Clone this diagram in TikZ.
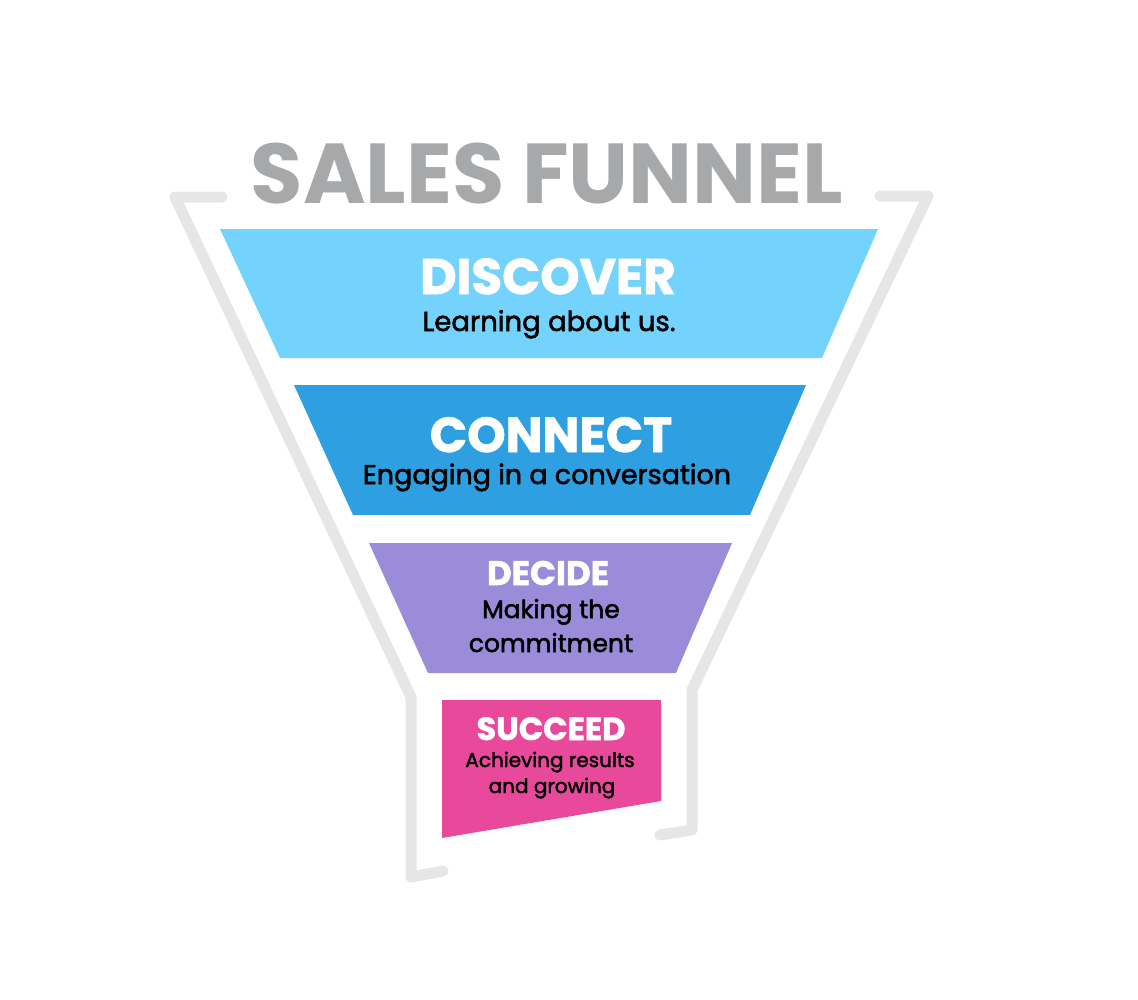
\documentclass[tikz,border=0pt]{standalone}
\usepackage{fontspec}
\setmainfont{Poppins}
\newfontfamily\headfont{Poppins}[FakeBold=1.6]
\newfontfamily\subfont{Poppins}[FakeBold=2]
\definecolor{funnelgray}{HTML}{E6E6E7}
\definecolor{titlegray}{HTML}{A7A8AA}
\definecolor{discoverblue}{HTML}{73D3FD}
\definecolor{connectblue}{HTML}{2E9FE1}
\definecolor{decidepurple}{HTML}{9A8CD9}
\definecolor{succeedpink}{HTML}{E9499B}
\begin{document}
\begin{tikzpicture}[x=1pt,y=-1pt,
    funnel/.style={draw=funnelgray,line width=11pt,line cap=round,line join=round},
    head/.style={anchor=base,inner sep=0pt,text=white,font=\headfont\bfseries\fontsize{#1}{#1}\selectfont},
    sub/.style={anchor=base,inner sep=0pt,text=black,font=\subfont\fontsize{#1}{#1}\selectfont}]
  \useasboundingbox (0,0) rectangle (1138,999);
  % funnel outline
  \draw[funnel] (222,197) -- (175,197) -- (411,697) -- (411,877) -- (443,871);
  \draw[funnel] (880,196) -- (928,196) -- (692,690) -- (692,830) -- (660,835);
  % stages
  \fill[discoverblue] (220,229) -- (878,229) -- (822,358) -- (280,358) -- cycle;
  \fill[connectblue]  (294,385) -- (806,385) -- (750,515) -- (353,515) -- cycle;
  \fill[decidepurple] (369,543) -- (732,543) -- (676,673) -- (428,673) -- cycle;
  \fill[succeedpink]  (442,700) -- (661,700) -- (661,801) -- (442,838) -- cycle;
  % title
  \node[anchor=base,inner sep=0pt,text=titlegray,font=\bfseries\fontsize{85}{85}\selectfont]
    (title) at (547,203) {SALES FUNNEL};
  % texts
  \node[head=50] (discover) at (548,294) {DISCOVER};
  \node[sub=27.5] (discoversub) at (549,331) {Learning about us.};
  \node[head=49] (connect) at (551,452) {CONNECT};
  \node[sub=27] (connectsub) at (547,484) {Engaging in a conversation};
  \node[head=34] (decide) at (548,585) {DECIDE};
  \node[sub=25] (decidesub1) at (551,618) {Making the};
  \node[sub=25] (decidesub2) at (551,652) {commitment};
  \node[head=32] (succeed) at (551,740) {SUCCEED};
  \node[sub=20] (succeedsub1) at (550,767) {Achieving results};
  \node[sub=20] (succeedsub2) at (552,793) {and growing};
\end{tikzpicture}
\end{document}
